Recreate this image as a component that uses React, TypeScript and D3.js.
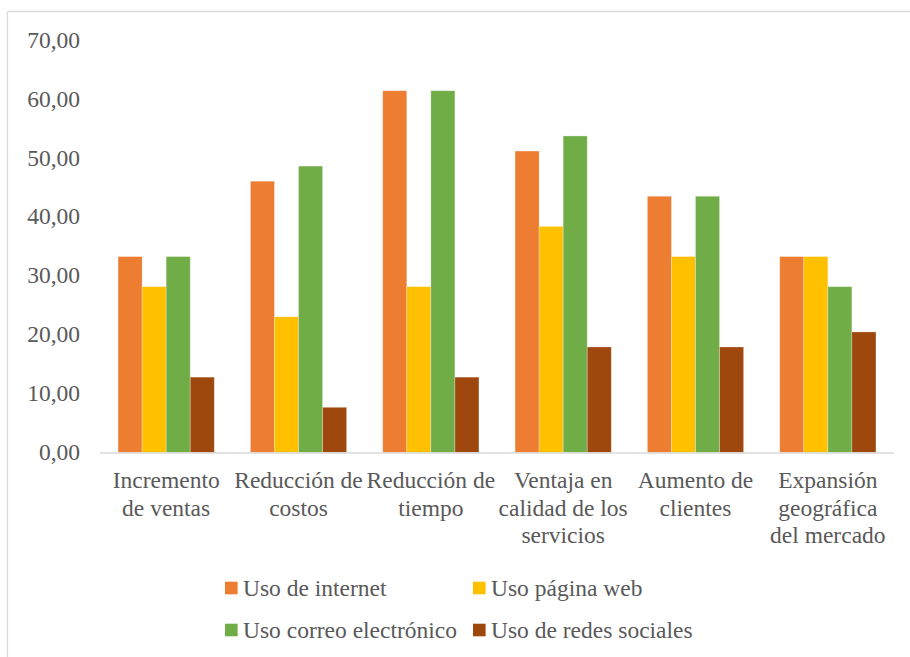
import React from "react";
import * as d3 from "d3";

const categoryLines: string[][] = [
  ["Incremento", "de ventas"],
  ["Reducción de", "costos"],
  ["Reducción de", "tiempo"],
  ["Ventaja en", "calidad de los", "servicios"],
  ["Aumento de", "clientes"],
  ["Expansión", "geográfica", "del mercado"],
];
const seriesNames = ["Uso de internet", "Uso página web", "Uso correo electrónico", "Uso de redes sociales"];
const seriesColors = ["#ED7D31", "#FFC000", "#70AD47", "#9E480E"];
const usoInternet = [33.33, 46.15, 61.54, 51.28, 43.59, 33.33];
const usoPaginaWeb = [28.21, 23.08, 28.21, 38.46, 33.33, 33.33];
const usoCorreo = [33.33, 48.72, 61.54, 53.85, 43.59, 28.21];
const usoRedes = [12.82, 7.69, 12.82, 17.95, 17.95, 20.51];
const yTicks = [0, 10, 20, 30, 40, 50, 60, 70];

const series = [usoInternet, usoPaginaWeb, usoCorreo, usoRedes];

export default function App() {
  const W = 910, H = 657;
  const x0 = 100, x1 = 894;
  const yBase = 452.5, yTop = 41;
  const font = "Liberation Serif, Times New Roman, DejaVu Serif, serif";
  const fs = 23.5;
  const textColor = "#595959";
  const ts = { fontFamily: font, fontSize: fs } as React.CSSProperties;

  const x = d3.scaleBand<number>().domain(d3.range(categoryLines.length)).range([x0, x1]).paddingInner(0.2727).paddingOuter(0.1364);
  const xs = d3.scaleBand<number>().domain(d3.range(series.length)).range([0, x.bandwidth()]);
  const y = d3.scaleLinear().domain([0, 70]).range([yBase, yTop]);
  const fmt = (v: number) => d3.format(".2f")(v).replace(".", ",");

  const groupW = (x1 - x0) / categoryLines.length;

  const legendItems = [
    { i: 0, sx: 225, cy: 588 },
    { i: 1, sx: 473, cy: 588 },
    { i: 2, sx: 225, cy: 630 },
    { i: 3, sx: 473, cy: 630 },
  ];

  return (
    <svg width={W} height={H} style={{ position: "absolute", left: 0, top: 0, background: "#fff" }}>
      <rect x={0} y={0} width={W} height={H} fill="#fff" />
      <line x1={7.5} y1={11.5} x2={W} y2={11.5} stroke="#d9d9d9" strokeWidth={1.3} />
      <line x1={7.5} y1={11.5} x2={7.5} y2={H} stroke="#d9d9d9" strokeWidth={1.3} />
      {yTicks.map((t) => (
        <text key={t} x={80} y={y(t)} dy={7} textAnchor="end" style={ts} fill={textColor}>
          {fmt(t)}
        </text>
      ))}
      {series.map((vals, si) =>
        vals.map((v, ci) => (
          <rect
            key={`${si}-${ci}`}
            x={(x(ci) as number) + (xs(si) as number)}
            y={y(v)}
            width={xs.bandwidth()}
            height={yBase - y(v)}
            fill={seriesColors[si]}
            stroke="#fff"
            strokeOpacity={0.35}
            strokeWidth={0.8}
          />
        ))
      )}
      <line x1={x0} x2={x1} y1={yBase + 0.5} y2={yBase + 0.5} stroke="#d9d9d9" strokeWidth={1.3} />
      {categoryLines.map((lines, ci) => (
        <text key={ci} x={x0 + groupW * (ci + 0.5)} y={488} textAnchor="middle" style={ts} fill={textColor}>
          {lines.map((l, li) => (
            <tspan key={li} x={x0 + groupW * (ci + 0.5)} y={488 + li * 27.5}>
              {l}
            </tspan>
          ))}
        </text>
      ))}
      {legendItems.map(({ i, sx, cy }) => (
        <g key={i}>
          <rect x={sx} y={cy - 6.3} width={12.6} height={12.6} fill={seriesColors[i]} />
          <text x={sx + 18} y={cy + 7.5} style={ts} fill={textColor}>
            {seriesNames[i]}
          </text>
        </g>
      ))}
    </svg>
  );
}
